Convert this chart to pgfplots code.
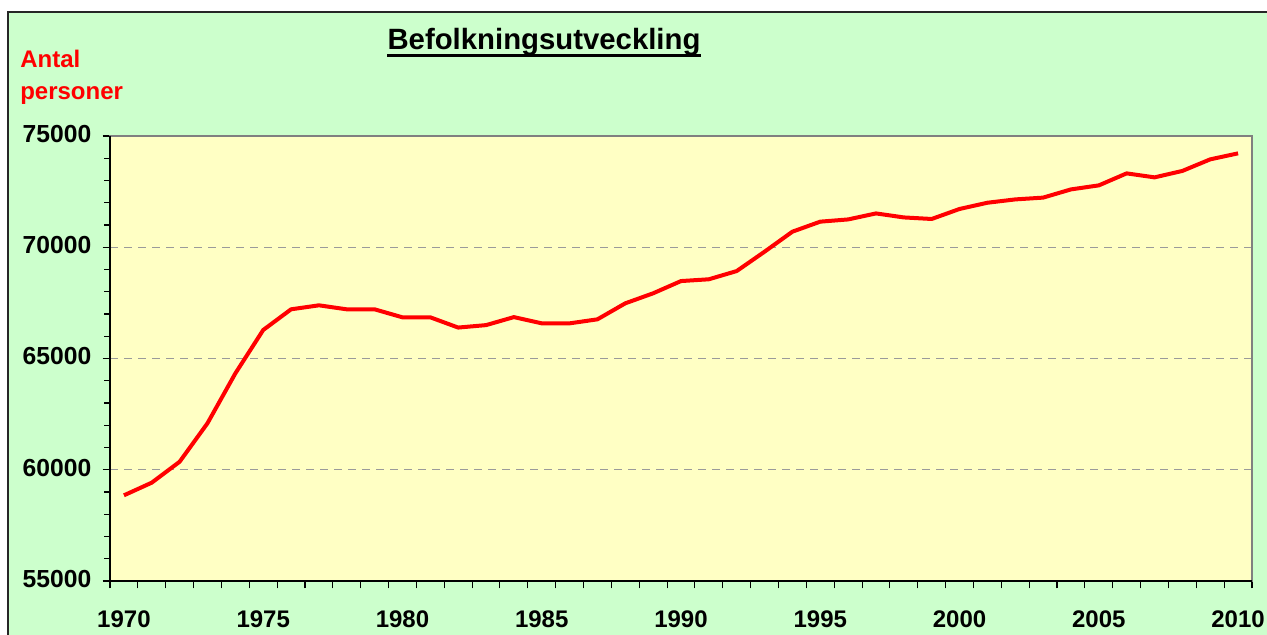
\documentclass[border=0pt]{standalone}
\usepackage{pgfplots}
\pgfplotsset{compat=1.18}
\usepackage{fontspec}
\setmainfont{Liberation Sans}
\definecolor{bggreen}{HTML}{CCFFCC}
\definecolor{plotyellow}{HTML}{FFFFC4}
\definecolor{gridgray}{HTML}{9A9A9A}
\pgfplotstableread{
year pop
1970 58850
1971 59420
1972 60360
1973 62090
1974 64330
1975 66280
1976 67210
1977 67390
1978 67210
1979 67210
1980 66850
1981 66850
1982 66390
1983 66500
1984 66860
1985 66580
1986 66580
1987 66760
1988 67480
1989 67930
1990 68480
1991 68560
1992 68930
1993 69800
1994 70700
1995 71150
1996 71250
1997 71520
1998 71340
1999 71270
2000 71720
2001 72000
2002 72150
2003 72230
2004 72600
2005 72780
2006 73320
2007 73140
2008 73430
2009 73950
2010 74220
}\popdata
\begin{document}
\begin{tikzpicture}[x=0.75pt,y=0.75pt]
\useasboundingbox (0,0) rectangle (1267,635);
\fill[white] (0,0) rectangle (1267,635);
\fill[bggreen] (8,0) rectangle (1267,623);
\draw[line width=0.8pt, black!85] (8,-2) -- (8,623) -- (1270,623);
\node[anchor=base west, text=red, font=\fontsize{18}{21}\selectfont\bfseries, inner sep=0pt] at (20,567) {Antal};
\node[anchor=base west, text=red, font=\fontsize{18}{21}\selectfont\bfseries, inner sep=0pt] at (20,535.5) {personer};
\node[anchor=base, font=\fontsize{22}{26}\selectfont\bfseries, inner sep=0pt] (t) at (544,585) {Befolkningsutveckling};
\draw[line width=2.6pt] ([yshift=-4pt]t.base west) -- ([yshift=-4pt]t.base east);
\begin{axis}[
  at={(82.5pt,40.5pt)}, anchor=south west,
  scale only axis, width=856.5pt, height=333.75pt,
  xmin=1969.5, xmax=2010.5, ymin=55000, ymax=75000,
  axis background/.style={fill=plotyellow},
  axis line style={draw=gray, line width=1pt},
  xtick={1969.5,1970.5,...,2010.5}, xticklabels={},
  extra x ticks={1970,1975,...,2010},
  extra x tick labels={1970,1975,1980,1985,1990,1995,2000,2005,2010},
  extra x tick style={major tick length=0pt, xticklabel style={yshift=-19pt}},
  ytick={55000,60000,...,75000},
  yticklabels={55000,60000,65000,70000,75000},
  minor ytick={56000,57000,...,74000},
  scaled y ticks=false,
  tick align=outside, xtick pos=bottom, ytick pos=left,
  major tick length=5.5pt, minor tick length=4.3pt,
  tick style={black, line width=0.8pt},
  ymajorgrids, grid style={dash pattern=on 6pt off 4.5pt, gridgray, line width=0.8pt},
  yticklabel style={font=\fontsize{18.5}{21}\selectfont\bfseries, xshift=-5pt, yshift=1.5pt},
  xticklabel style={font=\fontsize{18}{21}\selectfont\bfseries},
  clip=false,
]
\addplot[red, line width=3pt, line join=round] table[x=year, y=pop] {\popdata};
\draw[black, line width=1pt] (rel axis cs:0,1) -- (rel axis cs:0,0) -- (rel axis cs:1,0);
\end{axis}
\end{tikzpicture}
\end{document}
